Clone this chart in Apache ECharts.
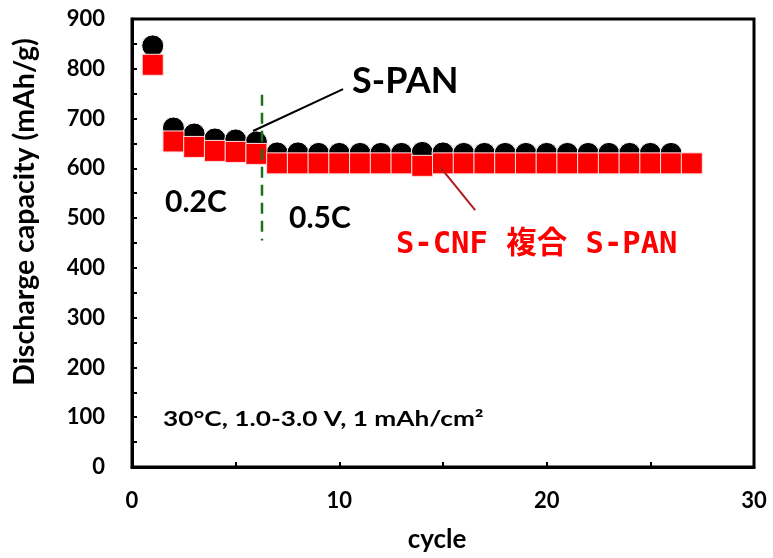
<!DOCTYPE html>
<html>
<head>
<meta charset="utf-8">
<script src="https://cdn.jsdelivr.net/npm/echarts@6/dist/echarts.min.js"></script>
<style>
  html, body { margin: 0; padding: 0; background: #fff; }
  #chart { width: 773px; height: 558px; }
</style>
</head>
<body>
<div id="chart"></div>
<script>
// Cycle numbers for each cell
const spanCycles = [1, 2, 3, 4, 5, 6, 7, 8, 9, 10, 11, 12, 13, 14, 15, 16, 17, 18, 19, 20, 21, 22, 23, 24, 25, 26];
const cnfCycles  = [1, 2, 3, 4, 5, 6, 7, 8, 9, 10, 11, 12, 13, 14, 15, 16, 17, 18, 19, 20, 21, 22, 23, 24, 25, 26, 27];

// Discharge capacity (mAh/g)
const spanCapacity = [846, 681, 669, 659, 657, 653, 631, 631, 630, 630, 630, 630, 630, 632, 631, 630, 630, 630, 630, 630, 630, 630, 630, 630, 630, 630];
const cnfCapacity  = [808, 654, 643, 635, 633, 629, 610, 610, 610, 610, 610, 610, 610, 605, 610, 610, 610, 610, 610, 610, 610, 610, 610, 610, 610, 610, 610];

// Rate change from 0.2C to 0.5C: [cycle, lower capacity, upper capacity]
const rateBoundary = [6.27, 455, 748];

// Leader lines for the two series labels: [cycle, capacity] pairs
const spanLeader = [[10.18, 759], [5.84, 675]];
const cnfLeader  = [[14.86, 603], [16.55, 516]];

const yTickLabels = [0, 100, 200, 300, 400, 500, 600, 700, 800, 900];
const xTickLabels = [0, 10, 20, 30];

const sans = 'Lato';

const chart = echarts.init(document.getElementById('chart'), null, { renderer: 'canvas' });

function zip(xs, ys) { return xs.map((x, i) => [x, ys[i]]); }

chart.setOption({
  animation: false,
  backgroundColor: '#fff',
  grid: {
    left: 132, right: 19, top: 19, bottom: 91,
    show: true, borderColor: '#000', borderWidth: 3
  },
  xAxis: {
    type: 'value', min: 0, max: 30, interval: 5,
    axisLine: { lineStyle: { color: '#000', width: 3 } },
    axisTick: { inside: true, length: 5, lineStyle: { color: '#000', width: 2 } },
    axisLabel: {
      margin: 23, fontFamily: sans, fontWeight: 'bold', fontSize: 22, color: '#000',
      formatter: v => xTickLabels.includes(v) ? String(v) : ''
    },
    splitLine: { show: false }
  },
  yAxis: {
    type: 'value', min: 0, max: 900, interval: 50,
    axisLine: { lineStyle: { color: '#000', width: 3 } },
    axisTick: { inside: true, length: 5, lineStyle: { color: '#000', width: 2 } },
    axisLabel: {
      margin: 27, fontFamily: sans, fontWeight: 'bold', fontSize: 22, color: '#000',
      formatter: v => yTickLabels.includes(v) ? String(v) : ''
    },
    splitLine: { show: false }
  },
  series: [
    {
      name: 'S-PAN', type: 'scatter', z: 2,
      symbol: 'circle', symbolSize: 22,
      itemStyle: { color: '#000', opacity: 1, borderColor: '#fff', borderWidth: 1 },
      data: zip(spanCycles, spanCapacity)
    },
    {
      name: 'S-CNF 複合 S-PAN', type: 'scatter', z: 3,
      symbol: 'rect', symbolSize: 21,
      itemStyle: { color: '#ff0000', opacity: 1, borderColor: '#ffe0e0', borderWidth: 1 },
      data: zip(cnfCycles, cnfCapacity)
    },
    {
      type: 'line', z: 4, symbol: 'none', silent: true,
      lineStyle: { color: '#1a711a', width: 2.5, type: [11, 7] },
      data: [[rateBoundary[0], rateBoundary[2]], [rateBoundary[0], rateBoundary[1]]]
    },
    {
      type: 'line', z: 5, symbol: 'none', silent: true,
      lineStyle: { color: '#000', width: 2 },
      data: spanLeader
    },
    {
      type: 'line', z: 5, symbol: 'none', silent: true,
      lineStyle: { color: '#b01c1c', width: 2 },
      data: cnfLeader
    }
  ],
  graphic: [
    { type: 'text', x: 25, y: 212, rotation: Math.PI / 2, z: 10,
      style: { text: 'Discharge capacity (mAh/g)', fontFamily: sans, fontWeight: 'bold', fontSize: 28.5,
               fill: '#000', align: 'center', verticalAlign: 'middle' } },
    { type: 'text', x: 437, y: 540, z: 10,
      style: { text: 'cycle', fontFamily: sans, fontWeight: 'bold', fontSize: 26,
               fill: '#000', align: 'center', verticalAlign: 'middle' } },
    { type: 'text', x: 352, y: 81, z: 10,
      style: { text: 'S-PAN', fontFamily: sans, fontWeight: 'bold', fontSize: 36, fill: '#000',
               align: 'left', verticalAlign: 'middle' } },
    { type: 'text', x: 165, y: 202, z: 10,
      style: { text: '0.2C', fontFamily: sans, fontWeight: 'bold', fontSize: 30, fill: '#000',
               align: 'left', verticalAlign: 'middle' } },
    { type: 'text', x: 289, y: 218, z: 10,
      style: { text: '0.5C', fontFamily: sans, fontWeight: 'bold', fontSize: 30, fill: '#000',
               align: 'left', verticalAlign: 'middle' } },
    { type: 'text', x: 396, y: 245, z: 10,
      style: { text: 'S-CNF 複合 S-PAN', fontFamily: "'DejaVu Sans Mono', 'Noto Sans CJK JP'", fontWeight: 'bold',
               fontSize: 30.5, fill: '#ff0000', align: 'left', verticalAlign: 'middle' } },
    // test conditions, set in a horizontally widened face
    { type: 'text', x: 163, y: 419, scaleX: 1.25, z: 10,
      style: { text: '30°C, 1.0-3.0 V, 1 mAh/cm²', fontFamily: sans, fontWeight: 'bold', fontSize: 21, fill: '#000',
               align: 'left', verticalAlign: 'middle' } }
  ]
});
</script>
</body>
</html>
